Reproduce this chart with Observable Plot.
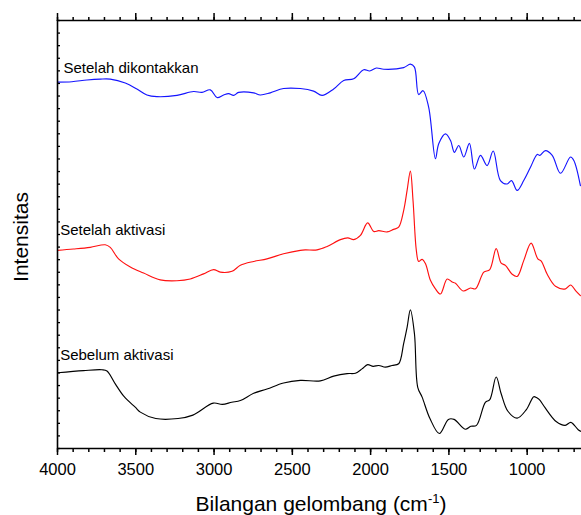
<!DOCTYPE html>
<html><head><meta charset="utf-8">
<script src="https://cdn.jsdelivr.net/npm/d3@7"></script>
<script src="https://cdn.jsdelivr.net/npm/@observablehq/plot@0.6"></script>
<style>body{margin:0;background:#fff;}</style>
</head><body><div id="chart"></div>
<script>
const seriesNames = ["Setelah dikontakkan", "Setelah aktivasi", "Sebelum aktivasi"];
const seriesColors = ["#1414ff", "#ff1010", "#000000"];

const blueWavenumber = [4000,3908,3812,3727,3663,3567,3493,3429,3365,3237,3131,3077,3024,2981,2939,2907,2875,2843,2747,2705,2641,2556,2449,2364,2310,2236,2172,2108,2044,2006,1963,1916,1789,1746,1720,1693,1665,1629,1586,1565,1522,1490,1465,1437,1405,1369,1337,1298,1256,1217,1171,1128,1100,1064,1022,979,936,919,883,840,787,723,702,660];
const blueIntensity = [85.6,85.7,86.1,86.3,86.3,85.4,84.0,82.6,82.2,82.5,83.4,83.2,83.8,82.0,82.6,82.9,82.5,83.2,83.1,82.6,83.1,84.1,84.1,83.5,82.5,84.0,86.0,86.4,88.5,88.2,88.9,88.6,89.0,89.8,89.1,82.7,83.6,79.7,67.7,71.2,73.5,72.0,69.2,70.8,68.1,71.3,65.3,68.5,66.1,69.5,62.6,61.8,62.6,60.3,62.6,65.7,68.7,68.5,69.6,68.5,64.3,68.1,67.3,61.4];

const redWavenumber = [4000,3898,3791,3695,3663,3610,3535,3450,3344,3237,3152,3067,3003,2960,2885,2832,2747,2662,2556,2449,2417,2342,2278,2193,2146,2108,2065,2019,1980,1948,1895,1853,1821,1789,1767,1746,1729,1708,1693,1671,1650,1618,1586,1554,1511,1479,1458,1409,1362,1330,1277,1239,1198,1166,1139,1096,1064,1022,975,932,910,872,819,755,723,691,660];
const redIntensity = [46.3,46.6,47.0,47.6,47.0,44.3,42.4,41.0,39.4,39.2,39.6,40.8,41.8,41.2,41.4,42.8,43.7,44.3,45.5,46.3,46.4,46.4,47.2,48.8,49.2,48.8,49.8,52.7,50.7,50.9,50.6,51.2,51.7,55.6,60.3,64.8,57.9,46.3,43.7,44.2,43.2,39.3,37.3,36.1,39.6,38.9,38.6,36.8,37.5,37.3,41.2,41.8,46.7,43.3,42.8,40.7,40.2,43.9,48.0,44.3,43.8,40.7,37.9,37.3,38.2,36.9,35.7];

const blackWavenumber = [4000,3834,3716,3684,3631,3574,3502,3471,3372,3230,3135,3005,2947,2887,2832,2747,2662,2556,2449,2321,2236,2150,2097,2055,2019,1984,1948,1906,1863,1821,1789,1767,1746,1720,1699,1671,1621,1561,1503,1467,1396,1360,1324,1267,1239,1198,1166,1123,1064,1005,958,941,922,887,815,757,721,674,655];
const blackIntensity = [17.7,18.2,18.4,18.1,15.1,12.1,9.6,8.5,7.0,7.0,7.8,10.6,10.3,10.8,11.2,12.9,13.9,15.3,15.9,15.8,16.9,17.5,17.6,18.6,19.6,19.2,19.4,19.0,19.4,19.8,24.5,28.3,32.4,26.8,14.3,12.0,7.0,3.5,6.8,6.8,4.5,5.2,5.4,10.8,11.4,16.7,12.8,8.7,7.1,9.1,12.1,11.9,11.4,9.6,6.3,5.4,6.1,4.4,4.0];

const labelWavenumber = [3962, 3983, 3983];
const labelIntensity = [88.9, 50.9, 21.7];

const majorTicks = [4000,3500,3000,2500,2000,1500,1000];
const minorTicks = [4000,3900,3800,3700,3600,3500,3400,3300,3200,3100,3000,2900,2800,2700,2600,2500,2400,2300,2200,2100,2000,1900,1800,1700,1600,1500,1400,1300,1200,1100,1000,900,800,700];
const xDomain = [4000, 653];
const yDomain = [0, 100];
const yTicks = d3.range(0, 35).map(i => i * 100 / 34);

const seriesWn = [blueWavenumber, redWavenumber, blackWavenumber];
const seriesI = [blueIntensity, redIntensity, blackIntensity];
const rows = [];
seriesNames.forEach((name, k) => {
  seriesWn[k].forEach((w, i) => rows.push({series: name, wn: w, I: seriesI[k][i]}));
});
const labels = seriesNames.map((name, k) => ({text: name, wn: labelWavenumber[k], I: labelIntensity[k]}));

const font = "'Liberation Sans', Arial, sans-serif";

const plot = Plot.plot({
  width: 581,
  height: 515,
  marginLeft: 57,
  marginRight: 0,
  marginTop: 20,
  marginBottom: 67,
  style: {fontFamily: font, fontSize: "16.5px", background: "white", color: "black", overflow: "visible"},
  x: {domain: xDomain, label: null},
  y: {domain: yDomain, label: null},
  color: {domain: seriesNames, range: seriesColors},
  marks: [
    Plot.line(rows, {x: "wn", y: "I", z: "series", stroke: "series", curve: "catmull-rom", strokeWidth: 1.15}),
    Plot.text(labels, {x: "wn", y: "I", text: "text", textAnchor: "start", fontSize: 15, fill: "black"}),
    Plot.ruleY(yDomain, {stroke: "black", strokeWidth: 1.6}),
    Plot.ruleX([xDomain[0]], {stroke: "black", strokeWidth: 1.6}),
    Plot.axisX({anchor: "bottom", ticks: majorTicks, tickSize: 7, tickPadding: 8, fontSize: 16.5, strokeWidth: 1.5, label: null, tickFormat: d => String(d)}),
    Plot.axisX({anchor: "bottom", ticks: minorTicks, tickSize: 4, strokeWidth: 1.5, fill: "none", label: null}),
    Plot.axisX({anchor: "top", ticks: majorTicks, tickSize: 8, strokeWidth: 1.5, fill: "none", label: null}),
    Plot.axisX({anchor: "top", ticks: minorTicks, tickSize: 4, strokeWidth: 1.5, fill: "none", label: null}),
    Plot.axisY({anchor: "left", ticks: yTicks, tickSize: -3, strokeWidth: 1.3, fill: "none", label: null})
  ]
});

const svg = d3.select(plot);
const xt = svg.append("text")
  .attr("x", 321).attr("y", 511)
  .attr("text-anchor", "middle")
  .attr("font-size", 21).attr("fill", "black")
  .style("font-family", font);
xt.append("tspan").text("Bilangan gelombang (cm");
xt.append("tspan").attr("font-size", 13).attr("dy", -8).text("-1");
xt.append("tspan").attr("dy", 8).text(")");
svg.append("text")
  .attr("transform", "translate(28,237) rotate(-90)")
  .attr("text-anchor", "middle")
  .attr("font-size", 21).attr("fill", "black")
  .style("font-family", font)
  .text("Intensitas");

document.getElementById("chart").appendChild(plot);
</script>
</body></html>
